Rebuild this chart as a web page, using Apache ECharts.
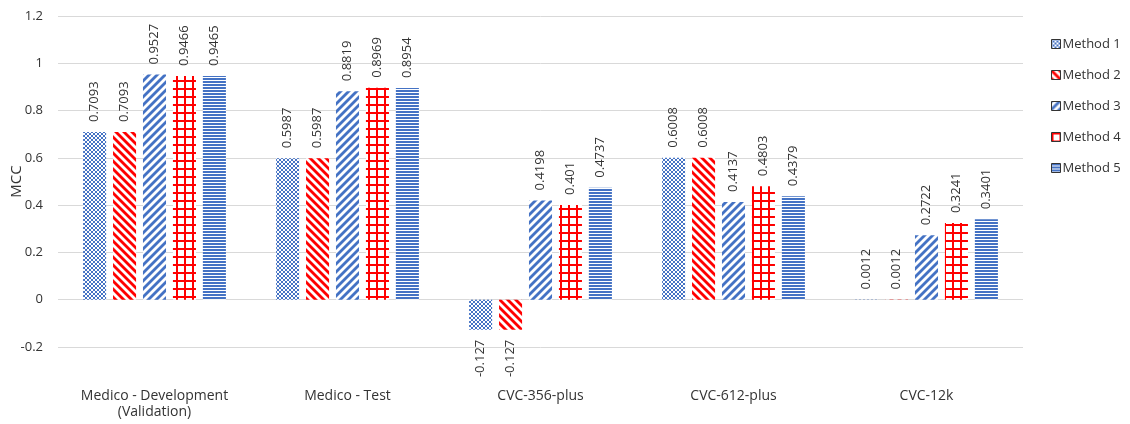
<!DOCTYPE html>
<html>
<head>
<meta charset="utf-8">
<title>MCC by dataset</title>
<script src="https://cdn.jsdelivr.net/npm/echarts@6/dist/echarts.min.js"></script>
<style>
  html, body { margin: 0; padding: 0; background: #fff; }
  #chart { width: 1130px; height: 424px; }
</style>
</head>
<body>
<div id="chart"></div>
<script>
// Datasets on the category axis
const categories = [
  'Medico - Development\n(Validation)',
  'Medico - Test',
  'CVC-356-plus',
  'CVC-612-plus',
  'CVC-12k'
];

// MCC per method, one value per dataset
const method1 = [0.7093, 0.5987, -0.127, 0.6008, 0.0012];
const method2 = [0.7093, 0.5987, -0.127, 0.6008, 0.0012];
const method3 = [0.9527, 0.8819, 0.4198, 0.4137, 0.2722];
const method4 = [0.9466, 0.8969, 0.401, 0.4803, 0.3241];
const method5 = [0.9465, 0.8954, 0.4737, 0.4379, 0.3401];

const seriesNames = ['Method 1', 'Method 2', 'Method 3', 'Method 4', 'Method 5'];

// Y axis ticks
const yMin = -0.2;
const yMax = 1.2;
const yStep = 0.2;

const BLUE = '#4472C4';
const RED = '#FF0000';
const FONT = '"Open Sans", sans-serif';

// ---- hatch fills drawn on small tiles ----
function tile(size, draw) {
  const c = document.createElement('canvas');
  c.width = size; c.height = size;
  const ctx = c.getContext('2d');
  ctx.fillStyle = '#fff';
  ctx.fillRect(0, 0, size, size);
  draw(ctx, size);
  return { image: c, repeat: 'repeat' };
}

// small diagonal lattice
const latticeBlue = tile(4, (ctx, s) => {
  ctx.fillStyle = BLUE;
  for (let i = 0; i < s; i++) {
    ctx.fillRect(i, i, 1, 1);
    ctx.fillRect(s - 1 - i, i, 1, 1);
  }
});

// wide diagonal stripes, direction given by sign
function stripes(color, down) {
  return tile(8, (ctx, s) => {
    ctx.strokeStyle = color;
    ctx.lineWidth = 2.8;
    for (let k = -1; k <= 1; k++) {
      ctx.beginPath();
      if (down) {
        ctx.moveTo(k * s - 1, -1);
        ctx.lineTo(k * s + s + 1, s + 1);
      } else {
        ctx.moveTo(k * s - 1, s + 1);
        ctx.lineTo(k * s + s + 1, -1);
      }
      ctx.stroke();
    }
  });
}
const stripesRedDown = stripes(RED, true);
const stripesBlueUp = stripes(BLUE, false);

// large square grid
const gridRed = tile(8, (ctx, s) => {
  ctx.fillStyle = RED;
  ctx.fillRect(0, 0, s, 2);
  ctx.fillRect(0, 0, 2, s);
});

// horizontal lines
const hLinesBlue = tile(3, (ctx, s) => {
  ctx.fillStyle = BLUE;
  ctx.fillRect(0, 0, s, 2);
});

const fills = [latticeBlue, stripesRedDown, stripesBlueUp, gridRed, hLinesBlue];
const values = [method1, method2, method3, method4, method5];

function toData(arr) {
  return arr.map(v => v < 0
    ? { value: v, label: { position: 'bottom', align: 'right' } }
    : { value: v });
}

const series = values.map((arr, i) => ({
  name: seriesNames[i],
  type: 'bar',
  barGap: '30%',
  barCategoryGap: '26%',
  itemStyle: { color: fills[i] },
  emphasis: { disabled: true },
  label: {
    show: true,
    position: 'top',
    rotate: 90,
    align: 'left',
    verticalAlign: 'middle',
    distance: 10,
    color: '#333',
    fontFamily: FONT,
    fontSize: 13
  },
  data: toData(arr)
}));

const chart = echarts.init(document.getElementById('chart'), null, { renderer: 'canvas' });
chart.setOption({
  animation: false,
  backgroundColor: '#fff',
  grid: { left: 58, right: 107, top: 16, bottom: 77, outerBoundsMode: 'none', containLabel: false },
  legend: {
    orient: 'vertical',
    left: 1046,
    top: 32,
    itemWidth: 9,
    itemHeight: 9,
    itemGap: 17,
    icon: 'rect',
    itemStyle: { borderColor: '#333', borderWidth: 1 },
    textStyle: { color: '#333', fontFamily: FONT, fontSize: 13, lineHeight: 14, padding: [0, 0, 0, -3] },
    data: seriesNames
  },
  xAxis: {
    type: 'category',
    data: categories,
    axisLine: { show: false, onZero: false },
    axisTick: { show: false },
    axisLabel: {
      margin: 41,
      color: '#333',
      fontFamily: FONT,
      fontSize: 14,
      lineHeight: 16,
      interval: 0
    }
  },
  yAxis: {
    type: 'value',
    min: yMin,
    max: yMax,
    interval: yStep,
    name: 'MCC',
    nameLocation: 'middle',
    nameGap: 34,
    nameMoveOverlap: false,
    nameTextStyle: { color: '#333', fontFamily: FONT, fontSize: 15 },
    axisLine: { show: false },
    axisTick: { show: false },
    axisLabel: {
      margin: 15,
      color: '#333',
      fontFamily: FONT,
      fontSize: 13,
      formatter: v => String(Math.round(v * 10) / 10)
    },
    splitLine: { lineStyle: { color: '#d9d9d9', width: 1 } }
  },
  series: series
});
</script>
</body>
</html>
